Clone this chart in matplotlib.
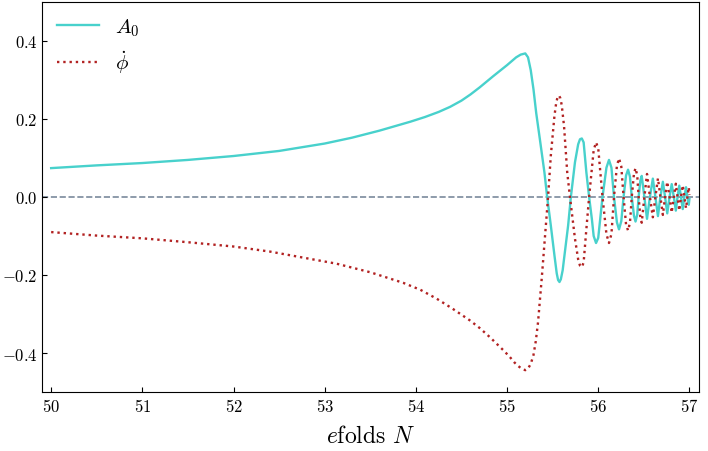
import matplotlib
matplotlib.use("Agg")
import matplotlib.pyplot as plt

plt.rcParams["font.family"] = "serif"
plt.rcParams["font.serif"] = ["cmr10", "DejaVu Serif"]
plt.rcParams["mathtext.fontset"] = "cm"
plt.rcParams["axes.formatter.use_mathtext"] = True

# A_0
N_A0 = [50.00, 50.50, 51.00, 51.50, 52.00, 52.50, 53.00, 53.30, 53.60, 53.94,
        54.10, 54.25, 54.375, 54.50, 54.60, 54.70, 54.85, 55.00, 55.05, 55.10,
        55.15, 55.20, 55.23, 55.26, 55.29, 55.32, 55.36, 55.41, 55.44, 55.48,
        55.52, 55.545, 55.56, 55.575, 55.59, 55.61, 55.625, 55.67, 55.70, 55.745,
        55.78, 55.80, 55.82, 55.84, 55.87, 55.90, 55.93, 55.95, 55.976, 56.00,
        56.047, 56.09, 56.118, 56.145, 56.173, 56.205, 56.228, 56.253, 56.278, 56.305,
        56.327, 56.348, 56.368, 56.392, 56.409, 56.428, 56.443, 56.462, 56.477, 56.506,
        56.535, 56.567, 56.599, 56.627, 56.655, 56.682, 56.709, 56.733, 56.757, 56.782,
        56.806, 56.829, 56.851, 56.870, 56.889, 56.908, 56.927, 56.945, 56.963, 56.978,
        56.993, 57.00]
A0 = [0.074, 0.081, 0.087, 0.095, 0.105, 0.118, 0.137, 0.152, 0.170, 0.193,
      0.205, 0.218, 0.231, 0.247, 0.263, 0.281, 0.310, 0.338, 0.348, 0.358,
      0.365, 0.368, 0.358, 0.325, 0.276, 0.215, 0.148, 0.063, 0.000, -0.073,
      -0.150, -0.196, -0.213, -0.218, -0.211, -0.188, -0.159, -0.073, 0.000, 0.089,
      0.135, 0.148, 0.150, 0.140, 0.063, 0.000, -0.056, -0.100, -0.118, -0.105,
      0.000, 0.075, 0.095, 0.075, 0.000, -0.065, -0.083, -0.062, 0.000, 0.055,
      0.070, 0.052, 0.000, -0.048, -0.063, -0.045, 0.000, 0.042, 0.054, 0.000,
      -0.056, 0.000, 0.047, 0.000, -0.049, 0.000, 0.039, 0.000, -0.042, 0.000,
      0.033, 0.000, -0.035, 0.000, 0.029, 0.000, -0.031, 0.000, 0.025, 0.000,
      -0.020, -0.005]

# phi dot
N_phi = [50.00, 50.50, 51.00, 51.50, 52.00, 52.40, 52.80, 53.13, 53.50, 53.86,
         54.05, 54.23, 54.40, 54.59, 54.70, 54.81, 54.96, 55.03, 55.08, 55.12,
         55.16, 55.20, 55.23, 55.26, 55.29, 55.315, 55.34, 55.38, 55.42, 55.45,
         55.48, 55.52, 55.54, 55.555, 55.57, 55.585, 55.60, 55.625, 55.66, 55.69,
         55.745, 55.78, 55.80, 55.82, 55.84, 55.87, 55.90, 55.93, 55.95, 55.976,
         56.00, 56.047, 56.09, 56.118, 56.145, 56.173, 56.205, 56.228, 56.253, 56.278,
         56.305, 56.327, 56.348, 56.368, 56.392, 56.409, 56.428, 56.443, 56.462, 56.477,
         56.506, 56.535, 56.567, 56.599, 56.627, 56.655, 56.682, 56.709, 56.733, 56.757,
         56.782, 56.806, 56.829, 56.851, 56.870, 56.889, 56.908, 56.927, 56.945, 56.963,
         56.978, 56.993, 57.00]
phi_dot = [-0.090, -0.099, -0.106, -0.116, -0.127, -0.140, -0.157, -0.171, -0.193, -0.220,
           -0.238, -0.261, -0.286, -0.316, -0.336, -0.359, -0.393, -0.410, -0.424, -0.433,
           -0.440, -0.444, -0.440, -0.428, -0.405, -0.370, -0.321, -0.210, -0.090, 0.000,
           0.106, 0.208, 0.243, 0.256, 0.260, 0.253, 0.235, 0.182, 0.063, 0.000,
           -0.107, -0.160, -0.176, -0.180, -0.168, -0.082, 0.000, 0.072, 0.120, 0.140,
           0.125, 0.000, -0.095, -0.118, -0.095, 0.000, 0.080, 0.099, 0.078, 0.000,
           -0.070, -0.086, -0.066, 0.000, 0.060, 0.074, 0.055, 0.000, -0.052, -0.066,
           0.000, 0.059, 0.000, -0.052, 0.000, 0.048, 0.000, -0.046, 0.000, 0.039,
           0.000, -0.040, 0.000, 0.034, 0.000, -0.035, 0.000, 0.030, 0.000, -0.029,
           0.000, 0.025, 0.005]

fig = plt.figure(figsize=(7.08, 4.52), dpi=100)
ax = fig.add_axes([0.060, 0.1305, 0.927, 0.863])

ax.plot(N_A0, A0, color="mediumturquoise", lw=1.7, label=r"$A_0$")
ax.plot(N_phi, phi_dot, color="firebrick", lw=1.7, ls=":", label=r"$\dot{\phi}$")
ax.axhline(0, color="#7a8a9c", ls="--", lw=1.2, zorder=0)

ax.set_xlim(49.905, 57.103)
ax.set_ylim(-0.5, 0.5)
ax.set_yticks([-0.4, -0.2, 0.0, 0.2, 0.4])
ax.tick_params(direction="in", labelsize=12, top=False, right=False)
ax.set_xlabel(r"$e$folds $N$", fontsize=17, labelpad=8)

ax.legend(loc="upper left", fontsize=15, frameon=False, borderaxespad=0.3)

fig.savefig("out.png", dpi=100)
